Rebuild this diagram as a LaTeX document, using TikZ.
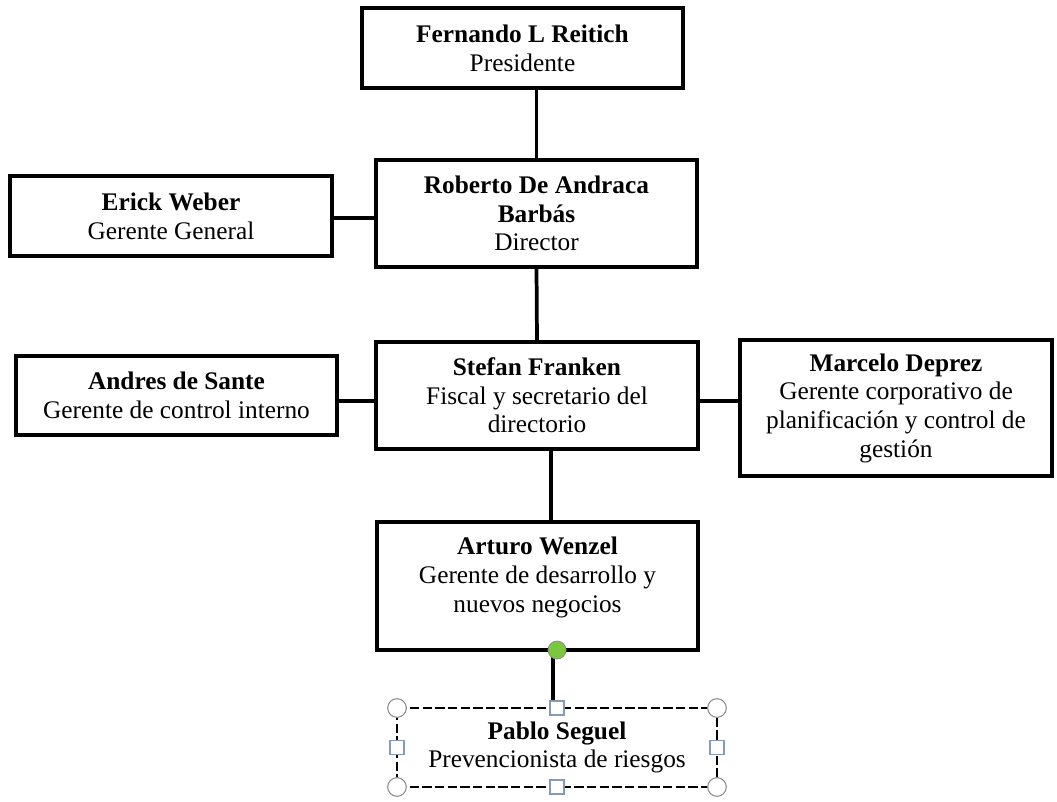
\documentclass[tikz,border=0pt]{standalone}
\usepackage{fontspec}
\setmainfont{Liberation Serif}
\usetikzlibrary{calc}
\definecolor{selgreen}{RGB}{122,200,62}
\definecolor{handlegray}{RGB}{140,140,140}
\definecolor{handleblue}{RGB}{130,155,185}
\tikzset{
  orgbox/.style={draw, line width=2.7pt, align=center, inner sep=0pt, outer sep=0pt,
    fill=white, font=\fontsize{19}{21.5}\selectfont},
  selbox/.style={orgbox, draw=black, dash pattern=on 7pt off 2.5pt, line width=2.2pt},
  link/.style={line width=2.8pt},
  handlecirc/.style={circle, draw=handlegray, fill=white, line width=0.8pt, minimum size=14pt, inner sep=0pt},
  handlesq/.style={rectangle, draw=handleblue, fill=white, line width=1pt, minimum size=10.5pt, inner sep=0pt},
  greendot/.style={circle, draw=handlegray, fill=selgreen, line width=0.6pt, minimum size=13.5pt, inner sep=0pt},
}
\begin{document}
\begin{tikzpicture}[x=0.75pt, y=-0.75pt]
\useasboundingbox (0,0) rectangle (1057,801);

\node[orgbox, minimum width=240.75pt, minimum height=60pt] (fer) at (522.5,48)
  {\textbf{Fernando L Reitich}\\Presidente};
\node[orgbox, minimum width=240.75pt, minimum height=80.25pt] (rob) at (536.5,213.5)
  {\textbf{Roberto De Andraca}\\\textbf{Barbás}\\Director};
\node[orgbox, minimum width=241.5pt, minimum height=60pt] (eri) at (171,216)
  {\textbf{Erick Weber}\\Gerente General};
\node[orgbox, minimum width=241.5pt, minimum height=80.25pt] (ste) at (537,395.5)
  {\textbf{Stefan Franken}\\Fiscal y secretario del\\directorio};
\node[orgbox, minimum width=240.75pt, minimum height=59.25pt] (and) at (176.5,395.5)
  {\textbf{Andres de Sante}\\Gerente de control interno};
\node[orgbox, minimum width=234pt, minimum height=102pt] (mar) at (896,408)
  {\textbf{Marcelo Deprez}\\Gerente corporativo de\\planificación y control de\\gestión};
\node[orgbox, minimum width=240.75pt, minimum height=96pt, text depth=17pt] (art) at (537.5,586)
  {\textbf{Arturo Wenzel}\\Gerente de desarrollo y\\nuevos negocios};
\node[selbox, minimum width=240pt, minimum height=59.25pt] (pab) at (557,747.5)
  {\textbf{Pablo Seguel}\\Prevencionista de riesgos};

% connectors
\draw[link] (rob.north) -- (rob.north |- fer.south);
\draw[link] ([yshift=-1.5pt]eri.east) -- ([yshift=-1.5pt]eri.east -| rob.west);
\draw[link] (rob.south) -- (ste.north);
\draw[link] ([yshift=-4pt]and.east) -- ([yshift=-4pt]and.east -| ste.west);
\draw[link] ([yshift=-4pt]ste.east) -- ([yshift=-4pt]ste.east -| mar.west);
\draw[link] ([xshift=10.5pt]ste.south) -- ([xshift=10.5pt]ste.south |- art.north);
\coordinate (gtop) at (pab.north |- art.south);
\draw[link] ([xshift=-3pt]pab.north) -- ([xshift=-3pt]gtop);

% selection handles
\node[greendot] (gdot) at (gtop) {};
\node[handlecirc] (h1) at (pab.north west) {};
\node[handlecirc] (h2) at (pab.north east) {};
\node[handlecirc] (h3) at (pab.south west) {};
\node[handlecirc] (h4) at (pab.south east) {};
\node[handlesq] (s1) at (pab.north) {};
\node[handlesq] (s2) at (pab.south) {};
\node[handlesq] (s3) at (pab.west) {};
\node[handlesq] (s4) at (pab.east) {};
\end{tikzpicture}
\end{document}
